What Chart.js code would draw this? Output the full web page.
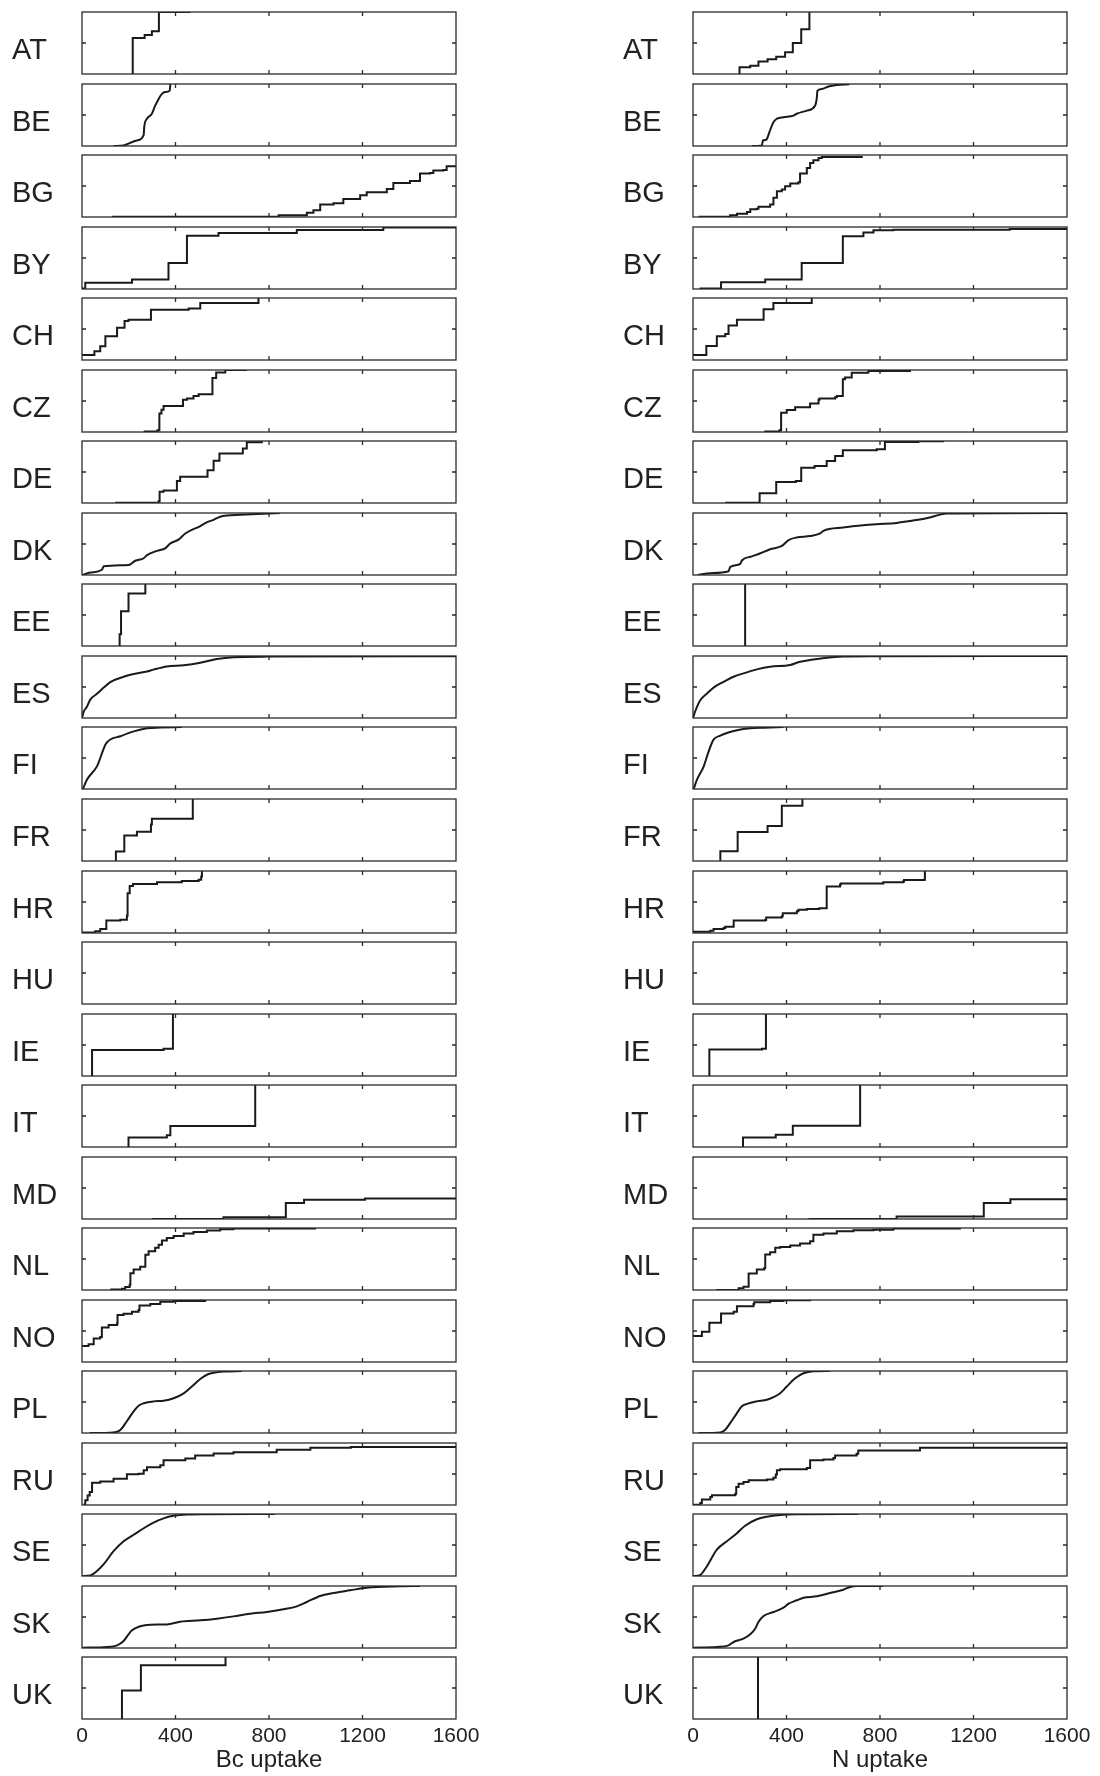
<!DOCTYPE html>
<html>
<head>
<meta charset="utf-8">
<script src="https://cdn.jsdelivr.net/npm/chart.js@4.4.1/dist/chart.umd.min.js"></script>
<style>
  body { margin: 0; background: #fff; }
  #wrap { position: relative; width: 1100px; height: 1776px; }
  #wrap canvas { position: absolute; }
</style>
</head>
<body>
<div id="wrap"></div>
<script>
const countries = ["AT", "BE", "BG", "BY", "CH", "CZ", "DE", "DK", "EE", "ES", "FI", "FR",
  "HR", "HU", "IE", "IT", "MD", "NL", "NO", "PL", "RU", "SE", "SK", "UK"];
const xTicks = [0, 400, 800, 1200, 1600];
const yTicks = [0.5];
const axisTitles = ["Bc uptake", "N uptake"];
// curves that look continuous rather than stepped
const smoothCurves = ["BE", "DK", "ES", "FI", "PL", "SE", "SK"];

// Bc uptake (left column): uptake value, cumulative fraction
const bcAT_x = [217, 217, 268, 299, 329, 463];
const bcAT_y = [0, 0.58, 0.63, 0.69, 1, 1];
const bcBE_x = [135, 178, 235, 264, 266, 278, 299, 313, 328, 342, 356, 375, 378];
const bcBE_y = [0, 0.01, 0.09, 0.18, 0.30, 0.44, 0.52, 0.65, 0.76, 0.84, 0.87, 0.89, 1];
const bcBG_x = [128, 841, 962, 990, 1019, 1076, 1118, 1190, 1218, 1304, 1332, 1403, 1446, 1489, 1503, 1546, 1560, 1600];
const bcBG_y = [0.005, 0.027, 0.07, 0.11, 0.20, 0.22, 0.29, 0.35, 0.40, 0.45, 0.55, 0.58, 0.70, 0.71, 0.75, 0.76, 0.82, 0.83];
const bcBY_x = [0, 14, 214, 370, 449, 584, 919, 1289, 1600];
const bcBY_y = [0.01, 0.10, 0.155, 0.42, 0.86, 0.905, 0.95, 0.99, 1];
const bcCH_x = [0, 53, 78, 100, 150, 182, 199, 295, 456, 506, 755];
const bcCH_y = [0.08, 0.14, 0.22, 0.385, 0.52, 0.63, 0.65, 0.81, 0.83, 0.92, 1];
const bcCZ_x = [264, 323, 331, 340, 349, 432, 449, 477, 499, 558, 574, 613, 705];
const bcCZ_y = [0.01, 0.03, 0.30, 0.36, 0.42, 0.52, 0.54, 0.58, 0.61, 0.87, 0.96, 1, 1];
const bcDE_x = [142, 328, 332, 349, 406, 420, 537, 563, 588, 688, 705, 769];
const bcDE_y = [0.005, 0.03, 0.18, 0.20, 0.355, 0.425, 0.53, 0.68, 0.80, 0.88, 0.98, 1];
const bcDK_x = [0, 36, 85, 93, 199, 228, 264, 278, 321, 356, 378, 413, 442, 506, 534, 563, 591, 620, 677, 848];
const bcDK_y = [0, 0.04, 0.085, 0.14, 0.16, 0.23, 0.27, 0.32, 0.39, 0.43, 0.51, 0.57, 0.67, 0.79, 0.85, 0.89, 0.94, 0.96, 0.97, 1];
const bcEE_x = [161, 161, 167, 199, 271];
const bcEE_y = [0, 0.19, 0.56, 0.845, 1];
const bcES_x = [0, 7, 21, 36, 64, 93, 121, 178, 221, 278, 306, 363, 435, 506, 577, 648, 791, 1600];
const bcES_y = [0, 0.10, 0.18, 0.30, 0.39, 0.49, 0.58, 0.665, 0.71, 0.75, 0.78, 0.83, 0.85, 0.89, 0.95, 0.98, 0.99, 0.995];
const bcFI_x = [4, 21, 64, 104, 164, 221, 278, 335, 427];
const bcFI_y = [0, 0.15, 0.365, 0.74, 0.85, 0.93, 0.98, 0.99, 1];
const bcFR_x = [145, 145, 181, 235, 295, 299, 474];
const bcFR_y = [0, 0.155, 0.41, 0.47, 0.59, 0.68, 1];
const bcHR_x = [0, 57, 78, 104, 164, 192, 195, 204, 218, 321, 427, 499, 510, 513];
const bcHR_y = [0.01, 0.027, 0.065, 0.20, 0.215, 0.28, 0.64, 0.76, 0.79, 0.82, 0.84, 0.86, 0.91, 1];
const bcHU_x = [];
const bcHU_y = [];
const bcIE_x = [43, 43, 349, 389, 389];
const bcIE_y = [0, 0.42, 0.44, 0.49, 1];
const bcIT_x = [199, 199, 363, 378, 741];
const bcIT_y = [0, 0.155, 0.19, 0.34, 1];
const bcMD_x = [299, 605, 872, 950, 1211, 1600];
const bcMD_y = [0, 0.03, 0.26, 0.31, 0.33, 0.34];
const bcNL_x = [121, 171, 185, 204, 207, 221, 249, 271, 285, 313, 328, 342, 363, 392, 435, 477, 534, 591, 648, 997];
const bcNL_y = [0.01, 0.02, 0.05, 0.085, 0.27, 0.33, 0.375, 0.57, 0.625, 0.68, 0.73, 0.80, 0.84, 0.87, 0.91, 0.935, 0.96, 0.98, 0.99, 1];
const bcNO_x = [0, 28, 50, 78, 85, 114, 150, 152, 178, 214, 242, 246, 292, 335, 392, 527];
const bcNO_y = [0.26, 0.285, 0.38, 0.405, 0.557, 0.595, 0.62, 0.757, 0.78, 0.81, 0.84, 0.91, 0.935, 0.97, 0.985, 1];
const bcPL_x = [33, 135, 164, 192, 221, 242, 264, 306, 349, 392, 435, 470, 506, 534, 563, 605, 684];
const bcPL_y = [0, 0.01, 0.05, 0.19, 0.35, 0.44, 0.48, 0.51, 0.52, 0.56, 0.64, 0.75, 0.87, 0.94, 0.97, 0.99, 1];
const bcRU_x = [7, 14, 24, 33, 43, 78, 135, 192, 242, 264, 278, 335, 349, 442, 484, 563, 648, 833, 977, 1150, 1600];
const bcRU_y = [0.01, 0.075, 0.155, 0.21, 0.36, 0.38, 0.425, 0.495, 0.505, 0.56, 0.61, 0.64, 0.72, 0.75, 0.80, 0.83, 0.85, 0.89, 0.925, 0.935, 0.946];
const bcSE_x = [0, 36, 64, 93, 135, 178, 221, 264, 306, 349, 392, 449, 534, 826];
const bcSE_y = [0, 0.01, 0.08, 0.19, 0.40, 0.56, 0.665, 0.77, 0.86, 0.93, 0.97, 0.99, 0.995, 1];
const bcSK_x = [0, 107, 150, 178, 199, 214, 249, 292, 363, 420, 506, 577, 648, 719, 791, 862, 919, 962, 1019, 1076, 1147, 1218, 1361, 1446];
const bcSK_y = [0.005, 0.016, 0.043, 0.113, 0.22, 0.285, 0.35, 0.376, 0.38, 0.425, 0.446, 0.473, 0.51, 0.554, 0.58, 0.624, 0.672, 0.742, 0.839, 0.887, 0.93, 0.973, 0.995, 1];
const bcUK_x = [171, 171, 252, 614];
const bcUK_y = [0, 0.46, 0.866, 1];

// N uptake (right column)
const nAT_x = [199, 199, 245, 280, 319, 356, 394, 427, 463, 498];
const nAT_y = [0, 0.108, 0.135, 0.20, 0.238, 0.28, 0.35, 0.50, 0.72, 1];
const nBE_x = [252, 295, 299, 313, 327, 344, 359, 387, 430, 444, 487, 522, 530, 532, 551, 579, 615, 669];
const nBE_y = [0, 0.01, 0.09, 0.10, 0.225, 0.385, 0.44, 0.465, 0.49, 0.52, 0.57, 0.65, 0.79, 0.89, 0.92, 0.96, 0.985, 0.995];
const nBG_x = [24, 159, 188, 231, 245, 273, 280, 330, 344, 359, 380, 394, 416, 451, 458, 487, 501, 515, 537, 551, 722];
const nBG_y = [0.005, 0.027, 0.053, 0.08, 0.123, 0.134, 0.166, 0.203, 0.31, 0.417, 0.444, 0.497, 0.54, 0.56, 0.70, 0.79, 0.87, 0.914, 0.95, 0.968, 0.985];
const nBY_x = [28, 120, 309, 465, 641, 729, 772, 857, 1355, 1600];
const nBY_y = [0.01, 0.107, 0.155, 0.42, 0.85, 0.91, 0.946, 0.957, 0.968, 0.97];
const nCH_x = [0, 57, 102, 138, 152, 188, 302, 344, 508];
const nCH_y = [0.08, 0.225, 0.385, 0.42, 0.556, 0.65, 0.82, 0.92, 1];
const nCZ_x = [305, 370, 377, 401, 437, 501, 537, 541, 608, 615, 641, 650, 679, 750, 928];
const nCZ_y = [0.01, 0.03, 0.31, 0.355, 0.40, 0.46, 0.52, 0.54, 0.56, 0.58, 0.85, 0.88, 0.957, 0.985, 1];
const nDE_x = [138, 285, 285, 356, 440, 463, 520, 572, 608, 641, 786, 821, 964, 1070];
const nDE_y = [0.005, 0.027, 0.156, 0.34, 0.355, 0.57, 0.597, 0.677, 0.758, 0.85, 0.866, 0.984, 0.995, 1];
const nDK_x = [20, 74, 152, 159, 202, 209, 252, 288, 330, 380, 409, 444, 501, 544, 558, 643, 729, 786, 871, 928, 999, 1085, 1600];
const nDK_y = [0, 0.03, 0.06, 0.128, 0.18, 0.234, 0.30, 0.35, 0.415, 0.468, 0.564, 0.606, 0.628, 0.67, 0.713, 0.766, 0.803, 0.82, 0.84, 0.872, 0.915, 0.99, 1];
const nEE_x = [223, 223];
const nEE_y = [0, 1];
const nES_x = [0, 10, 31, 60, 88, 131, 174, 216, 273, 330, 416, 458, 501, 572, 643, 786, 1600];
const nES_y = [0, 0.113, 0.286, 0.395, 0.49, 0.584, 0.665, 0.72, 0.784, 0.827, 0.854, 0.908, 0.935, 0.973, 0.99, 0.995, 1];
const nFI_x = [3, 17, 46, 67, 88, 117, 145, 188, 245, 302, 387];
const nFI_y = [0, 0.15, 0.366, 0.608, 0.796, 0.86, 0.903, 0.946, 0.978, 0.989, 1];
const nFR_x = [117, 117, 191, 319, 380, 468];
const nFR_y = [0, 0.156, 0.468, 0.565, 0.892, 1];
const nHR_x = [0, 74, 88, 131, 138, 174, 309, 313, 380, 384, 444, 451, 487, 540, 572, 629, 632, 814, 900, 903, 989, 992];
const nHR_y = [0.02, 0.038, 0.065, 0.08, 0.10, 0.20, 0.21, 0.25, 0.27, 0.32, 0.35, 0.376, 0.387, 0.40, 0.75, 0.78, 0.80, 0.817, 0.833, 0.855, 0.86, 1];
const nHU_x = [];
const nHU_y = [];
const nIE_x = [70, 70, 295, 312, 312];
const nIE_y = [0, 0.428, 0.44, 0.476, 1];
const nIT_x = [214, 214, 354, 427, 715];
const nIT_y = [0, 0.155, 0.198, 0.342, 1];
const nMD_x = [494, 871, 1244, 1358, 1600];
const nMD_y = [0, 0.04, 0.258, 0.317, 0.328];
const nNL_x = [100, 195, 216, 238, 238, 273, 305, 309, 330, 352, 373, 416, 458, 501, 515, 558, 615, 686, 772, 857, 1142];
const nNL_y = [0, 0.027, 0.053, 0.086, 0.267, 0.33, 0.353, 0.572, 0.61, 0.68, 0.695, 0.717, 0.75, 0.786, 0.893, 0.91, 0.947, 0.963, 0.973, 0.99, 0.995];
const nNO_x = [0, 38, 70, 120, 174, 188, 259, 262, 330, 387, 501];
const nNO_y = [0.42, 0.486, 0.632, 0.784, 0.81, 0.90, 0.935, 0.962, 0.984, 0.995, 1];
const nPL_x = [24, 117, 138, 159, 188, 209, 231, 273, 316, 344, 373, 401, 437, 473, 515, 584];
const nPL_y = [0, 0.01, 0.053, 0.16, 0.32, 0.43, 0.47, 0.51, 0.535, 0.578, 0.642, 0.75, 0.882, 0.963, 0.995, 1];
const nRU_x = [3, 31, 38, 74, 81, 181, 185, 195, 216, 238, 316, 344, 354, 359, 373, 487, 501, 558, 601, 608, 700, 707, 971, 1600];
const nRU_y = [0.005, 0.032, 0.09, 0.13, 0.156, 0.183, 0.29, 0.344, 0.37, 0.398, 0.41, 0.44, 0.49, 0.56, 0.575, 0.597, 0.72, 0.735, 0.76, 0.80, 0.828, 0.88, 0.925, 0.946];
const nSE_x = [0, 28, 60, 102, 145, 188, 223, 273, 316, 373, 444, 707];
const nSE_y = [0, 0.01, 0.16, 0.425, 0.56, 0.69, 0.81, 0.915, 0.957, 0.984, 0.995, 1];
const nSK_x = [0, 102, 152, 174, 216, 245, 266, 280, 302, 344, 387, 409, 444, 473, 530, 586, 643, 672, 700, 814];
const nSK_y = [0.005, 0.016, 0.043, 0.097, 0.15, 0.22, 0.31, 0.42, 0.516, 0.58, 0.65, 0.715, 0.77, 0.81, 0.833, 0.887, 0.94, 0.984, 1, 1];
const nUK_x = [278, 278];
const nUK_y = [0, 1];

const bcSeries = [
  [bcAT_x, bcAT_y], [bcBE_x, bcBE_y], [bcBG_x, bcBG_y], [bcBY_x, bcBY_y], [bcCH_x, bcCH_y], [bcCZ_x, bcCZ_y],
  [bcDE_x, bcDE_y], [bcDK_x, bcDK_y], [bcEE_x, bcEE_y], [bcES_x, bcES_y], [bcFI_x, bcFI_y], [bcFR_x, bcFR_y],
  [bcHR_x, bcHR_y], [bcHU_x, bcHU_y], [bcIE_x, bcIE_y], [bcIT_x, bcIT_y], [bcMD_x, bcMD_y], [bcNL_x, bcNL_y],
  [bcNO_x, bcNO_y], [bcPL_x, bcPL_y], [bcRU_x, bcRU_y], [bcSE_x, bcSE_y], [bcSK_x, bcSK_y], [bcUK_x, bcUK_y],
];
const nSeries = [
  [nAT_x, nAT_y], [nBE_x, nBE_y], [nBG_x, nBG_y], [nBY_x, nBY_y], [nCH_x, nCH_y], [nCZ_x, nCZ_y],
  [nDE_x, nDE_y], [nDK_x, nDK_y], [nEE_x, nEE_y], [nES_x, nES_y], [nFI_x, nFI_y], [nFR_x, nFR_y],
  [nHR_x, nHR_y], [nHU_x, nHU_y], [nIE_x, nIE_y], [nIT_x, nIT_y], [nMD_x, nMD_y], [nNL_x, nNL_y],
  [nNO_x, nNO_y], [nPL_x, nPL_y], [nRU_x, nRU_y], [nSE_x, nSE_y], [nSK_x, nSK_y], [nUK_x, nUK_y],
];

// layout (px)
const columns = [
  { canvasLeft: 0, plotLeft: 82, labelX: 12, series: bcSeries, title: axisTitles[0] },
  { canvasLeft: 610, plotLeft: 693, labelX: 13, series: nSeries, title: axisTitles[1] },
];
const plotW = 374, plotH = 62, firstTop = 12.3, rowPitch = 71.52;
const FONT = '"Liberation Sans", Arial, Helvetica, sans-serif';

const framePlugin = {
  id: "frame",
  afterDatasetsDraw(chart, args, opts) {
    const { ctx, chartArea: a } = chart;
    const xs = chart.scales.x, ys = chart.scales.y;
    ctx.save();
    ctx.strokeStyle = "#2a2a2a";
    ctx.lineWidth = 1.3;
    ctx.strokeRect(a.left, a.top, a.right - a.left, a.bottom - a.top);
    ctx.beginPath();
    xTicks.slice(1, -1).forEach((v) => {
      const px = xs.getPixelForValue(v);
      ctx.moveTo(px, a.bottom); ctx.lineTo(px, a.bottom - 4);
      ctx.moveTo(px, a.top); ctx.lineTo(px, a.top + 4);
    });
    yTicks.forEach((v) => {
      const py = ys.getPixelForValue(v);
      ctx.moveTo(a.left, py); ctx.lineTo(a.left + 4, py);
      ctx.moveTo(a.right, py); ctx.lineTo(a.right - 4, py);
    });
    ctx.stroke();

    ctx.fillStyle = "#222";
    ctx.textBaseline = "alphabetic";
    ctx.textAlign = "left";
    ctx.font = "29px " + FONT;
    ctx.fillText(opts.label, opts.labelX, a.top + 47);

    if (opts.bottom) {
      ctx.textAlign = "center";
      ctx.font = "21px " + FONT;
      xTicks.forEach((v) => ctx.fillText(String(v), xs.getPixelForValue(v), a.bottom + 22.5));
      ctx.font = "24px " + FONT;
      ctx.fillText(opts.title, (a.left + a.right) / 2, a.bottom + 47.5);
    }
    ctx.restore();
  },
};

const wrap = document.getElementById("wrap");

columns.forEach((col) => {
  countries.forEach((name, i) => {
    const last = i === countries.length - 1;
    const top = Math.round(firstTop + i * rowPitch);
    const padTop = 5, padRight = 32, padBottom = last ? 60 : 5;
    const padLeft = col.plotLeft - col.canvasLeft;

    const canvas = document.createElement("canvas");
    canvas.width = padLeft + plotW + padRight;
    canvas.height = padTop + plotH + padBottom;
    canvas.style.left = col.canvasLeft + "px";
    canvas.style.top = top - padTop + "px";
    wrap.appendChild(canvas);

    const [xv, yv] = col.series[i];
    const smooth = smoothCurves.includes(name);

    new Chart(canvas, {
      type: "scatter",
      data: {
        datasets: [{
          data: xv.map((x, k) => ({ x: x, y: yv[k] })),
          showLine: true,
          stepped: !smooth,
          cubicInterpolationMode: smooth ? "monotone" : "default",
          borderColor: "#1a1a1a",
          borderWidth: 2,
          pointRadius: 0,
          fill: false,
        }],
      },
      options: {
        responsive: false,
        animation: false,
        events: [],
        layout: { padding: { left: padLeft, right: padRight, top: padTop, bottom: padBottom } },
        plugins: {
          legend: { display: false },
          tooltip: { enabled: false },
          frame: { label: name, labelX: col.labelX, bottom: last, title: col.title },
        },
        scales: {
          x: { type: "linear", min: 0, max: 1600, display: false },
          y: { type: "linear", min: 0, max: 1, display: false },
        },
      },
      plugins: [framePlugin],
    });
  });
});
</script>
</body>
</html>
